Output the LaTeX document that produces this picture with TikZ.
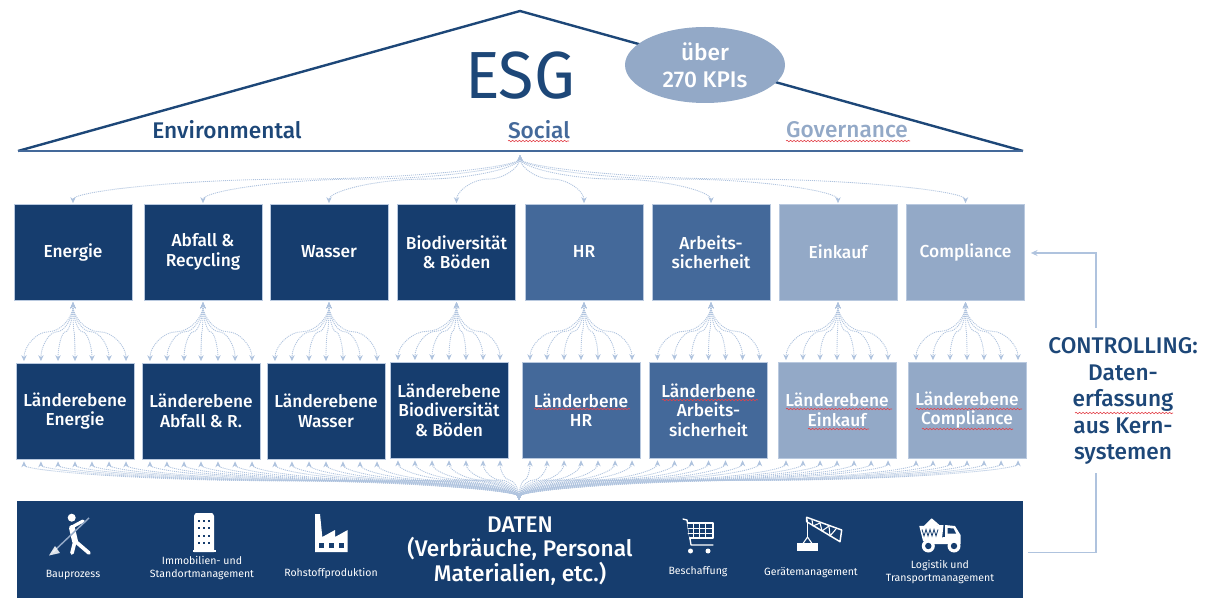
\documentclass[tikz,border=0pt]{standalone}
\usepackage{fontspec}
\setmainfont{Fira Sans}[BoldFont={Fira Sans Medium}]
\usetikzlibrary{arrows.meta,calc,shapes.geometric,decorations.pathmorphing}
\definecolor{navy}{HTML}{163D6E}
\definecolor{midblue}{HTML}{44699A}
\definecolor{paleblue}{HTML}{93A9C7}
\definecolor{edgeblue}{HTML}{B9C9DF}
\definecolor{dotblue}{HTML}{AFC3DE}
\definecolor{roofblue}{HTML}{1D4778}
\definecolor{squigred}{HTML}{E2434B}
\newcommand{\scurve}[2]{%
  \draw[conn] let \p1=(#1), \p2=(#2), \n1={(\y1+\y2)/2}, \n2={(\x1+\x2)/2} in
    (\p1) .. controls (\x1,{(\y1+\n1)/2}) and ({(\x1+\n2)/2},\n1) .. (\n2,\n1)
          .. controls ({(\n2+\x2)/2},\n1) and (\x2,{(\n1+\y2)/2}) .. (\p2);}
\newcommand{\squig}[3]{\draw[squigline] (#1,#3) -- (#2,#3);}
\tikzset{
  box/.style={draw=edgeblue,line width=.5pt,minimum width=88.5pt,minimum height=72pt,inner sep=0pt,
    text=white,align=center,font=\fontsize{13}{14.6}\selectfont\bfseries},
  navybox/.style={box,fill=navy},
  midbox/.style={box,fill=midblue},
  palebox/.style={box,fill=paleblue},
  conn/.style={draw=dotblue,line width=.65pt,dash pattern=on .8pt off .7pt,
    {Stealth[length=4.5pt,width=4pt,fill=dotblue]}-{Stealth[length=4.5pt,width=4pt,fill=dotblue]}},
  ctrl/.style={draw=dotblue,line width=1.1pt},
  squigline/.style={draw=squigred,line width=.45pt,decorate,decoration={snake,amplitude=.55pt,segment length=2.6pt}},
  roofl/.style={font=\fontsize{17}{20}\selectfont\bfseries},
  small/.style={text=white,align=center,font=\fontsize{7.9}{10.2}\selectfont},
  icon/.style={fill=white,draw=none},
  iconl/.style={draw=white,line cap=round,line join=round},
}
\begin{document}
\begin{tikzpicture}[x=.75pt,y=-.75pt]
\useasboundingbox (0,0) rectangle (1212,598);
% roof
\coordinate (rl) at (18,151);
\coordinate (rt) at (520,11);
\coordinate (rr) at (1023,151);
\draw[roofblue,line width=1.8pt,line join=miter] (rl) -- (rt) -- (rr);
\draw[midblue,line width=1.9pt] (rl) -- (rr);
\node[text=roofblue,inner sep=0pt,xscale=.97,transform shape,font=\fontsize{50}{50}\selectfont] (esg) at (520,76) {ESG};
\node[ellipse,fill=paleblue,minimum width=120pt,minimum height=57pt,inner sep=0pt,text=white,align=center,
  font=\fontsize{17}{20}\selectfont\bfseries] (kpi) at (705,65) {über\\270 KPIs};
\node[roofl,text=roofblue] (env) at (227,130) {Environmental};
\node[roofl,text=midblue] (soc) at (539,130) {Social};
\node[roofl,text=paleblue] (gov) at (847,130) {Governance};
\squig{508}{569}{141}
\squig{786}{910}{141}
% top boxes
\node[navybox] (t1) at (73,252) {Energie};
\node[navybox] (t2) at (203,252) {Abfall \&\\Recycling};
\node[navybox] (t3) at (329,252) {Wasser};
\node[navybox] (t4) at (456.5,252) {Biodiversität\\\& Böden};
\node[midbox] (t5) at (584,252) {HR};
\node[midbox] (t6) at (711,252) {Arbeits-\\sicherheit};
\node[palebox] (t7) at (838,252) {Einkauf};
\node[palebox] (t8) at (965.5,252) {Compliance};
% mid boxes
\node[navybox] (m1) at (75,411) {Länderebene\\Energie};
\node[navybox] (m2) at (201,411) {Länderebene\\Abfall \& R.};
\node[navybox] (m3) at (326,411) {Länderebene\\Wasser};
\node[navybox] (m4) at (449,410) {Länderebene\\Biodiversität\\\& Böden};
\node[midbox] (m5) at (581,410) {Länderbene\\HR};
\node[midbox] (m6) at (708.5,410) {Länderbene\\Arbeits-\\sicherheit};
\node[palebox] (m7) at (837,410) {Länderebene\\Einkauf};
\node[palebox] (m8) at (967,410) {Länderebene\\Compliance};
\squig{534}{630}{409}
\squig{662}{758}{400}
\squig{786}{892}{409}
\squig{808}{869}{429}
\squig{916}{1022}{409}
\squig{922}{1013}{429}
% data bar
\node[fill=navy,draw=none,minimum width=754.5pt,minimum height=72.75pt,inner sep=0pt] (daten) at (520,549.5) {};
\node[text=white,align=center,font=\fontsize{17}{18.3}\selectfont\bfseries] (dtext) at (520,551) {DATEN\\(Verbräuche, Personal\\Materialien, etc.)};
\node[small] (l1) at (73,575) {Bauprozess};
\node[small] (l2) at (202,568) {Immobilien- und\\Standortmanagement};
\node[small] (l3) at (331,574) {Rohstoffproduktion};
\node[small] (l4) at (698,572) {Beschaffung};
\node[small] (l5) at (811,573) {Gerätemanagement};
\node[small] (l6) at (940,572) {Logistik und\\Transportmanagement};
% hubs and connectors
\coordinate (hubT) at (520,155);
\coordinate (hubD) at (519,500);
\foreach \i in {1,...,8}{
  \coordinate (B) at ($(t\i.north)+(0,-.5)$);
  \scurve{hubT}{B}
  \foreach \f in {.07,.213,.357,.5,.643,.787,.93}{
    \coordinate (A) at ($(t\i.south)+(0,2)$);
    \coordinate (C) at ($(m\i.north west)!\f!(m\i.north east)+(0,-1.5)$);
    \scurve{A}{C}
    \coordinate (D) at ($(m\i.south west)!\f!(m\i.south east)+(0,2)$);
    \scurve{hubD}{D}
  }
}
% controlling
\node[text=roofblue,align=center,inner sep=0pt,font=\fontsize{17}{19.9}\selectfont\bfseries] (ctext) at (1123,401) {CONTROLLING:\\Daten-\\erfassung\\aus Kern-\\systemen};
\squig{1075}{1173}{413}
\coordinate (c1) at (1096,473);
\coordinate (c2) at (1096,328);
\draw[ctrl] ($(daten.east)+(5,3)$) -| (c1);
\draw[ctrl,-{Stealth[length=5pt,width=4.5pt]}] (c2) |- ($(t8.east)+(6,1)$);
% icon: worker
\fill[icon] (71.7,517.7) circle (4);
\draw[iconl,line width=4.4pt] (72,528) -- (75,541);
\draw[iconl,line width=2.4pt] (72,527) -- (83,521);
\draw[iconl,line width=2.8pt] (75,541) -- (72,553);
\draw[iconl,line width=2.8pt] (75,541) -- (89,553);
\draw[paleblue,line width=1.1pt] (89,518) -- (53,552);
\fill[icon,opacity=.85] (49,555.5) -- (60,553) -- (55,546) -- cycle;
% icon: building
\fill[icon] (194,552) -- (194,516) .. controls (194,513) and (196,513) .. (198,513) -- (210,513) .. controls (212,513) and (214,513) .. (214,516) -- (214,552) -- cycle;
\fill[icon] (192.7,550) rectangle (216,552);
\foreach \yy in {521,528,536,543}{\foreach \xx in {199,204,209.3}{\fill[navy] (\xx-1,\yy-1) rectangle (\xx+1,\yy+1);}}
% icon: factory
\fill[icon] (315,514) -- (320,514) -- (322.3,537) -- (335,530) -- (335,537) -- (347.7,530) -- (347.7,552) -- (315,552) -- cycle;
\foreach \xx in {321.7,331.7,341}{\fill[navy] (\xx-2.5,543) rectangle (\xx+2.5,547.5);}
% icon: cart
\draw[iconl,line width=1pt] (683,519) -- (687,520) -- (691,545) -- (713,545);
\draw[iconl,line width=1pt,fill=navy] (687.5,523) -- (713,523) -- (713,538) -- (689.5,538);
\foreach \xx in {693,699,705}{\draw[iconl,line width=.7pt] (\xx+.5,523) -- (\xx+.5,538);}
\foreach \yy in {528,533}{\draw[iconl,line width=.7pt] (688,\yy) -- (713,\yy);}
\fill[icon] (690.5,551) circle (2.5);
\fill[icon] (708,551) circle (2.5);
% icon: crane
\draw[iconl,line width=1.1pt] (806.7,517.3) -- (841.7,530) -- (840,541.7) -- (806.7,521.7) -- cycle;
\draw[iconl,line width=.8pt] (812,520) -- (813,526) -- (820,523) -- (822,531) -- (829,526) -- (830,536) -- (836,529);
\draw[iconl,line width=.8pt] (807.5,520) -- (807.5,537);
\draw[iconl,line width=.8pt] (803,543.5) -- (807.5,537) -- (812,543.5);
\fill[icon] (797.3,543.3) rectangle (818.3,551);
% icon: truck
\fill[icon] (923,526.7) -- (931.7,518.3) -- (940,525.5) -- cycle;
\fill[icon] (919.3,526) -- (943.5,525) -- (942,538.3) -- (923,541) -- cycle;
\fill[icon] (945,525) -- (955,526) -- (960.5,535) -- (960.5,544) -- (930,544) -- (930,539) -- (945,537) -- cycle;
\fill[navy] (947.5,528) -- (953.5,528.5) -- (956,533.5) -- (947.5,533.5) -- cycle;
\draw[navy,line width=.6pt] (922,529.5) -- (924,536) -- (926,529.5) -- (928,536) -- (930,529.5) -- (932,536) -- (934,529.5) -- (936,536) -- (938,529.5);
\foreach \xx in {928.3,954}{\fill[icon] (\xx,546) circle (6.5);\fill[navy] (\xx,546) circle (3.2);}
\end{tikzpicture}
\end{document}
